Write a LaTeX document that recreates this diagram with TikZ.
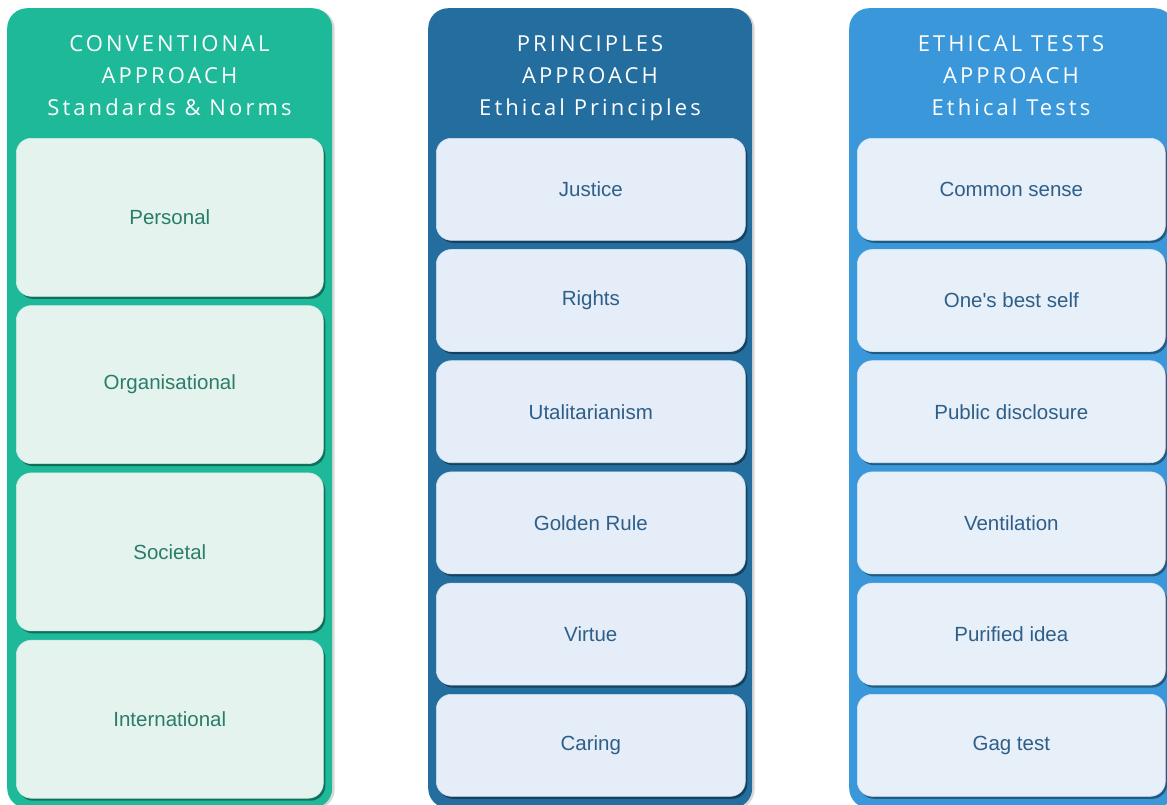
\documentclass[tikz,border=0pt]{standalone}
\usepackage{fontspec}
\setmainfont{Liberation Sans}[Ligatures=TeXOff]
\newfontfamily\headfont[LetterSpace=14]{Open Sans}
\usetikzlibrary{shadows}

\definecolor{panelA}{HTML}{1DB999}
\definecolor{panelB}{HTML}{246D9F}
\definecolor{panelC}{HTML}{3A98DA}
\definecolor{cellA}{HTML}{E5F3EF}
\definecolor{cellB}{HTML}{E5EDF8}
\definecolor{cellC}{HTML}{E7EFF9}
\definecolor{inkA}{HTML}{2A7D68}
\definecolor{inkB}{HTML}{2F5F88}

\tikzset{
  panel/.style={rounded corners=20pt, anchor=north west, inner sep=0pt,
    minimum height=800pt,
    drop shadow={shadow xshift=2.5pt, shadow yshift=-1pt, fill=black!30, opacity=0.5}},
  cell/.style={rounded corners=15pt, anchor=north west, inner sep=0pt,
    font=\fontsize{20.5}{24}\selectfont, line width=0.6pt,
    drop shadow={shadow xshift=2pt, shadow yshift=-2.5pt, fill=black, opacity=0.4}},
  heading/.style={text=white, align=center, anchor=center,
    font=\headfont\fontsize{22}{32}\selectfont}
}

\begin{document}
\begin{tikzpicture}[x=1pt,y=-1pt]
  \clip (0,0) rectangle (1167,804);
  \fill[white] (0,0) rectangle (1167,804);

  % the three columns
  \node[panel, fill=panelA, minimum width=325pt] (colA) at (7,8) {};
  \node[panel, fill=panelB, minimum width=324pt] (colB) at (428,8) {};
  \node[panel, fill=panelC, minimum width=325pt] (colC) at (849,8) {};

  % headings (struts keep the three blocks at the same height)
  \node[heading] (headA) at (169.5,77) {\strut CONVENTIONAL\\APPROACH\\Standards \& Norms\strut};
  \node[heading] (headB) at (590,77) {\strut PRINCIPLES\\APPROACH\\Ethical Principles\strut};
  \node[heading] (headC) at (1011,77) {\strut ETHICAL TESTS\\APPROACH\\Ethical Tests\strut};

  % conventional approach: four tall cells
  \foreach \t [count=\i from 0] in {Personal,Organisational,Societal,International}{
    \node[cell, fill=cellA, draw=cellA!88!panelA, text=inkA,
          minimum width=307pt, minimum height=158pt]
      (a\i) at (16,{138+\i*167.3}) {\t};
  }

  % principles approach: six cells
  \foreach \t [count=\i from 0] in {Justice,Rights,Utalitarianism,Golden Rule,Virtue,Caring}{
    \node[cell, fill=cellB, draw=cellB!88!panelB, text=inkB,
          minimum width=309pt, minimum height=102pt]
      (b\i) at (436,{138+\i*111.2}) {\t};
  }

  % ethical tests approach: six cells
  \foreach \t [count=\i from 0] in {Common sense,One's best self,Public disclosure,Ventilation,Purified idea,Gag test}{
    \node[cell, fill=cellC, draw=cellC!88!panelC, text=inkB,
          minimum width=308pt, minimum height=102pt]
      (c\i) at (857,{138+\i*111.2}) {\t};
  }
\end{tikzpicture}
\end{document}
